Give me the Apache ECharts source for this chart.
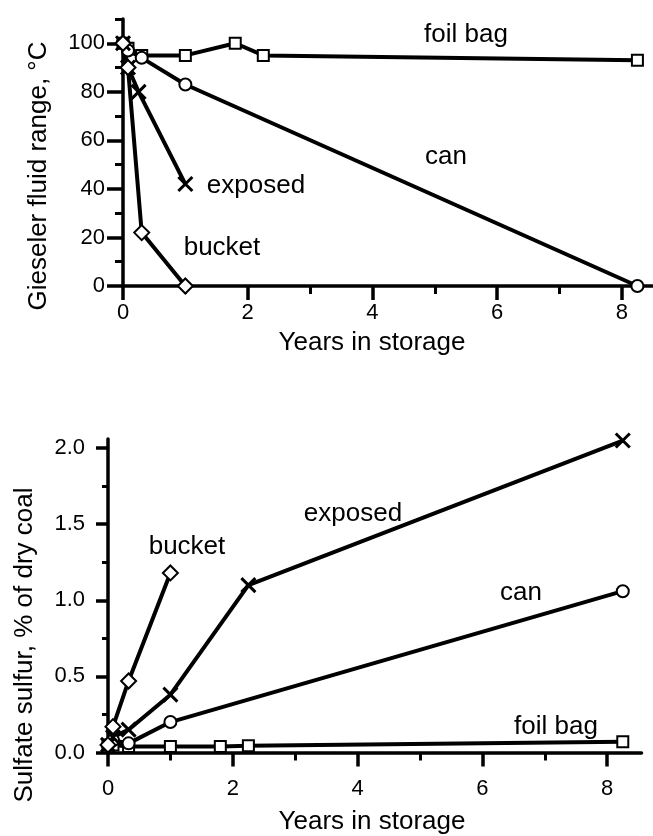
<!DOCTYPE html>
<html>
<head>
<meta charset="utf-8">
<script src="https://cdn.jsdelivr.net/npm/echarts@6/dist/echarts.min.js"></script>
<style>
  html, body { margin: 0; padding: 0; background: #fff; }
  #chart { width: 653px; height: 836px; }
</style>
</head>
<body>
<div id="chart"></div>
<script>
// Gieseler fluidity range (°C) against years in storage
const fluidYearsFoil = [0, 0.08, 0.3, 1.0, 1.8, 2.25, 8.25];
const fluidFoil = [100, 98, 95, 95, 100, 95, 93];
const fluidYearsCan = [0, 0.08, 0.3, 1.0, 8.25];
const fluidCan = [100, 97, 94, 83, 0];
const fluidYearsExposed = [0, 0.08, 0.25, 1.0];
const fluidExposed = [100, 90, 80, 42];
const fluidYearsBucket = [0, 0.08, 0.3, 1.0];
const fluidBucket = [100, 90, 22, 0];

// Sulfate sulfur (% of dry coal) against years in storage
const sulfYearsFoil = [0, 0.08, 0.33, 1.0, 1.8, 2.25, 8.25];
const sulfFoil = [0.05, 0.05, 0.04, 0.04, 0.04, 0.045, 0.07];
const sulfYearsCan = [0, 0.08, 0.33, 1.0, 8.25];
const sulfCan = [0.05, 0.08, 0.06, 0.2, 1.06];
const sulfYearsExposed = [0, 0.08, 0.33, 1.0, 2.25, 8.25];
const sulfExposed = [0.05, 0.1, 0.15, 0.38, 1.1, 2.05];
const sulfYearsBucket = [0, 0.08, 0.33, 1.0];
const sulfBucket = [0.05, 0.17, 0.47, 1.18];

// Tick positions
const yearTicks = [0, 2, 4, 6, 8];
const yearMinorTicks = [1, 3, 5, 7];
const fluidTicks = [0, 20, 40, 60, 80, 100];
const fluidMinorTicks = [10, 30, 50, 70, 90, 110];
const sulfTicks = [0, 0.5, 1.0, 1.5, 2.0];
const sulfMinorTicks = [0.25, 0.75, 1.25, 1.75];

// Text
const xTitle = 'Years in storage';
const fluidTitle = 'Gieseler fluid range, °C';
const sulfTitle = 'Sulfate sulfur, % of dry coal';
const seriesNames = ['foil bag', 'can', 'exposed', 'bucket'];

const FONT = '"Liberation Sans", Arial, Helvetica, sans-serif';
const INK = '#000';

const pair = (xs, ys) => xs.map((x, i) => [x, ys[i]]);

const crossSymbol = 'path://M0,0L10,10M10,0L0,10';
const markerStyle = {
  'foil bag': { symbol: 'emptyRect', symbolSize: 11 },
  'can': { symbol: 'emptyCircle', symbolSize: 12 },
  'exposed': { symbol: crossSymbol, symbolSize: 14 },
  'bucket': { symbol: 'emptyDiamond', symbolSize: 15 }
};

function lineSeries(name, data, axisIdx) {
  const m = markerStyle[name];
  return {
    type: 'line',
    name,
    xAxisIndex: axisIdx,
    yAxisIndex: axisIdx,
    data,
    symbol: m.symbol,
    symbolSize: m.symbolSize,
    showAllSymbol: true,
    clip: false,
    lineStyle: { color: INK, width: 4 },
    itemStyle: { color: INK, borderColor: INK, borderWidth: 3 },
    emphasis: { disabled: true },
    z: 3
  };
}

function majorX(gridIndex, max, labelMargin) {
  return {
    type: 'value', gridIndex, min: 0, max, position: 'bottom',
    axisLine: { show: true, onZero: false, lineStyle: { color: INK, width: 3.5 } },
    axisTick: { show: true, customValues: yearTicks, length: 14, lineStyle: { color: INK, width: 3.5 } },
    axisLabel: { show: true, customValues: yearTicks, margin: labelMargin, color: INK, fontSize: 22, fontFamily: FONT },
    splitLine: { show: false }
  };
}
function minorX(gridIndex, max) {
  return {
    type: 'value', gridIndex, min: 0, max, position: 'bottom',
    axisLine: { show: false, onZero: false },
    axisTick: { show: true, customValues: yearMinorTicks, length: 8, lineStyle: { color: INK, width: 3 } },
    axisLabel: { show: false },
    splitLine: { show: false }
  };
}
function majorY(gridIndex, max, ticks, fmt, labelMargin, tickLen) {
  return {
    type: 'value', gridIndex, min: 0, max, position: 'left',
    axisLine: { show: true, onZero: false, lineStyle: { color: INK, width: 3.5 } },
    axisTick: { show: true, customValues: ticks, length: tickLen, lineStyle: { color: INK, width: 3.5 } },
    axisLabel: { show: true, customValues: ticks, margin: labelMargin, color: INK, fontSize: 22, fontFamily: FONT, formatter: fmt },
    splitLine: { show: false }
  };
}
function minorY(gridIndex, max, ticks, len) {
  return {
    type: 'value', gridIndex, min: 0, max, position: 'left',
    axisLine: { show: false, onZero: false },
    axisTick: { show: true, customValues: ticks, length: len, lineStyle: { color: INK, width: 3 } },
    axisLabel: { show: false },
    splitLine: { show: false }
  };
}

function text(str, x, y, rot) {
  return {
    type: 'text', x, y, rotation: rot || 0, z: 10,
    style: { text: str, fill: INK, font: '26px ' + FONT, align: 'center', verticalAlign: 'middle' }
  };
}

const FLUID_MAX = 110;
const SULF_MAX = 2.06;
const X_MAX_TOP = 8.5;
const X_MAX_BOTTOM = 8.55;

const option = {
  backgroundColor: '#fff',
  animation: false,
  grid: [
    { left: 123, top: 19, width: 531, height: 267 },
    { left: 108, top: 439, width: 533.5, height: 313.5 }
  ],
  xAxis: [
    majorX(0, X_MAX_TOP, 16),
    majorX(1, X_MAX_BOTTOM, 25),
    minorX(0, X_MAX_TOP),
    minorX(1, X_MAX_BOTTOM)
  ],
  yAxis: [
    majorY(0, FLUID_MAX, fluidTicks, v => String(v), 18, 16),
    majorY(1, SULF_MAX, sulfTicks, v => v.toFixed(1), 23, 12),
    minorY(0, FLUID_MAX, fluidMinorTicks, 8),
    minorY(1, SULF_MAX, sulfMinorTicks, 6)
  ],
  series: [
    lineSeries('foil bag', pair(fluidYearsFoil, fluidFoil), 0),
    lineSeries('can', pair(fluidYearsCan, fluidCan), 0),
    lineSeries('exposed', pair(fluidYearsExposed, fluidExposed), 0),
    lineSeries('bucket', pair(fluidYearsBucket, fluidBucket), 0),
    lineSeries('foil bag', pair(sulfYearsFoil, sulfFoil), 1),
    lineSeries('can', pair(sulfYearsCan, sulfCan), 1),
    lineSeries('exposed', pair(sulfYearsExposed, sulfExposed), 1),
    lineSeries('bucket', pair(sulfYearsBucket, sulfBucket), 1)
  ],
  graphic: [
    // curve labels, upper panel
    text(seriesNames[0], 466, 35),
    text(seriesNames[1], 446, 157),
    text(seriesNames[2], 256, 186),
    text(seriesNames[3], 222, 248),
    // curve labels, lower panel
    text(seriesNames[3], 187, 547),
    text(seriesNames[2], 353, 514),
    text(seriesNames[1], 521, 593),
    text(seriesNames[0], 556, 727),
    // axis titles
    text(xTitle, 372, 343),
    text(fluidTitle, 39, 176, Math.PI / 2),
    text(xTitle, 372, 822),
    text(sulfTitle, 25, 645, Math.PI / 2)
  ]
};

const chart = echarts.init(document.getElementById('chart'), null, { renderer: 'canvas' });
chart.setOption(option);
</script>
</body>
</html>
